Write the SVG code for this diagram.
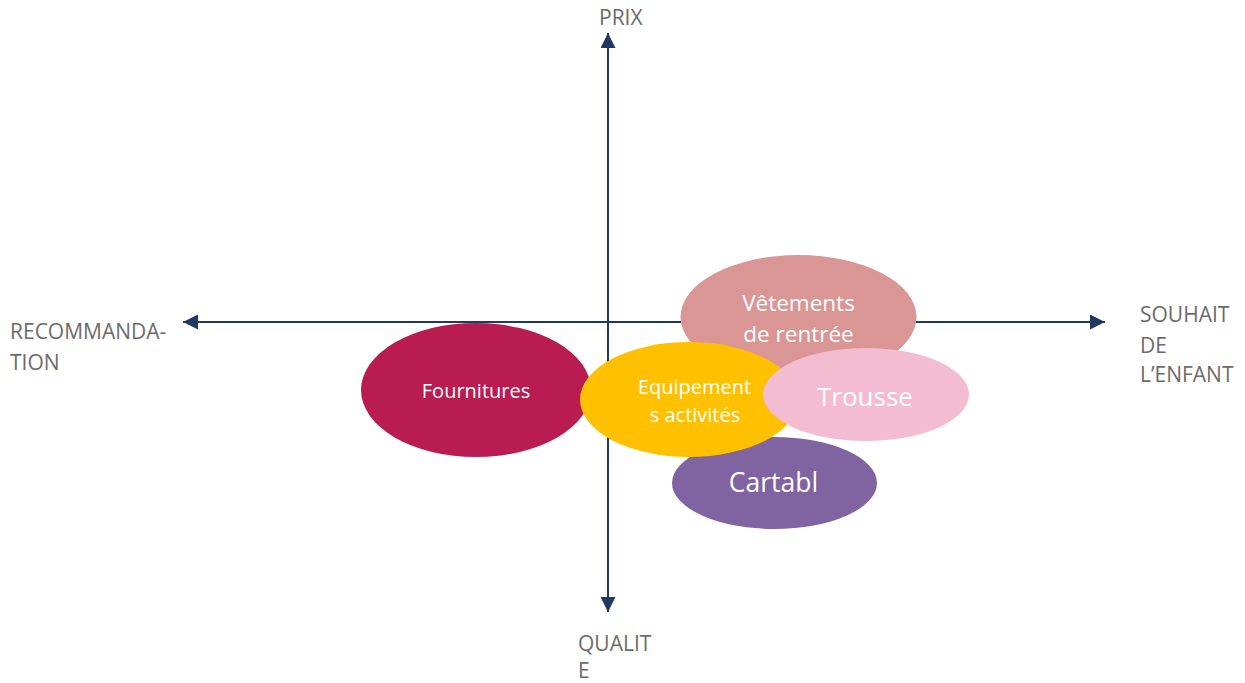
<svg xmlns="http://www.w3.org/2000/svg" width="1245" height="683" viewBox="0 0 1245 683">
<defs>
<marker id="ah" markerUnits="userSpaceOnUse" markerWidth="16" markerHeight="16" refX="15" refY="7.5" orient="auto">
<polygon points="0,0 15,7.5 0,15" fill="#1f3864"/>
</marker>
<style>
.axis{stroke:#1f3864;stroke-width:2;fill:none}
.lbl{font-family:"Open Sans","Liberation Sans",sans-serif;font-size:21px;fill:#6b6b6b}
.nt{font-family:"Open Sans","Liberation Sans",sans-serif;fill:#ffffff;text-anchor:middle}
</style>
</defs>
<rect width="1245" height="683" fill="#ffffff"/>
<g id="connectors">
<line class="axis" x1="608" y1="322" x2="608" y2="33" marker-end="url(#ah)"/>
<line class="axis" x1="608" y1="322" x2="608" y2="612" marker-end="url(#ah)"/>
<line class="axis" x1="608" y1="322" x2="183" y2="322" marker-end="url(#ah)"/>
<line class="axis" x1="608" y1="322" x2="1105" y2="322" marker-end="url(#ah)"/>
</g>
<g id="axis-labels">
<text class="lbl" x="599" y="25">PRIX</text>
<text class="lbl" x="10" y="339">RECOMMANDA-</text>
<text class="lbl" x="10" y="370">TION</text>
<text class="lbl" x="1140" y="322">SOUHAIT</text>
<text class="lbl" x="1140" y="353">DE</text>
<text class="lbl" x="1140" y="382">L’ENFANT</text>
<text class="lbl" x="578" y="651">QUALIT</text>
<text class="lbl" x="578" y="678">E</text>
</g>
<g id="fournitures">
<ellipse cx="476" cy="390" rx="115" ry="67" fill="#b81c51"/>
<text class="nt" x="476" y="398" font-size="20">Fournitures</text>
</g>
<g id="vetements">
<ellipse cx="798.5" cy="317" rx="118" ry="62" fill="#d99694"/>
<text class="nt" x="798.5" y="311" font-size="22.5">Vêtements</text>
<text class="nt" x="798.5" y="342" font-size="22.5">de rentrée</text>
</g>
<g id="cartabl">
<ellipse cx="774.5" cy="483" rx="102.5" ry="46" fill="#8064a2"/>
<text class="nt" x="773.5" y="492" font-size="26.5">Cartabl</text>
</g>
<g id="equipements">
<ellipse cx="689" cy="399.5" rx="109" ry="57.5" fill="#ffc000"/>
<text class="nt" x="694.5" y="394" font-size="20">Equipement</text>
<text class="nt" x="695" y="422" font-size="20">s activités</text>
</g>
<g id="trousse">
<ellipse cx="866" cy="394.5" rx="103" ry="46.5" fill="#f4bcd0"/>
<text class="nt" x="865" y="406" font-size="26">Trousse</text>
</g>
</svg>
